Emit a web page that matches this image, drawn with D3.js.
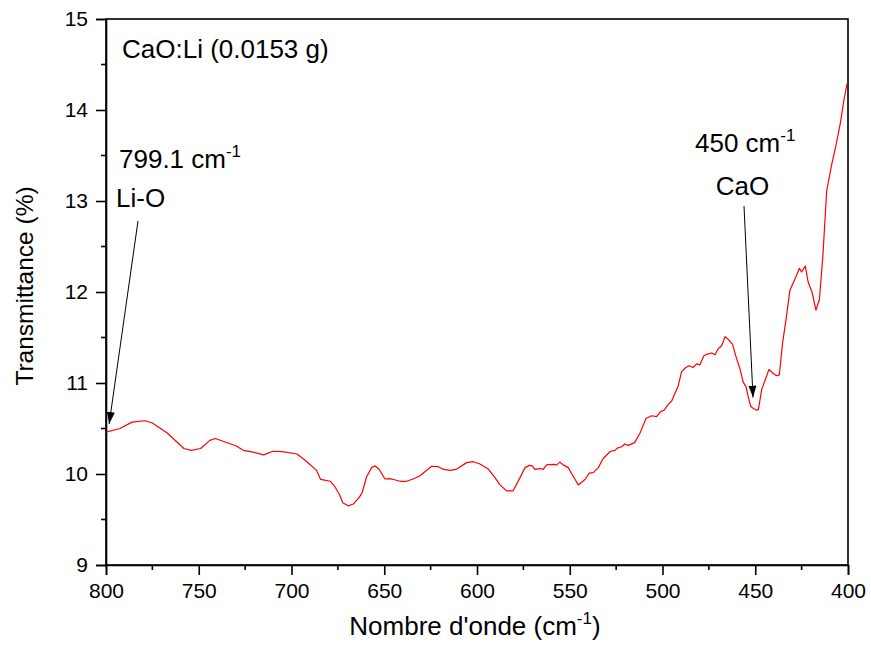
<!DOCTYPE html>
<html>
<head>
<meta charset="utf-8">
<script src="https://cdn.jsdelivr.net/npm/d3@7"></script>
<style>
  html, body { margin: 0; padding: 0; background: #fff; }
  svg { display: block; font-family: "Liberation Sans", Arial, sans-serif; }
</style>
</head>
<body>
<svg id="chart" width="871" height="647"></svg>
<script>
// FTIR spectrum of CaO:Li — wavenumber (cm-1) and transmittance (%)
const wavenumber = [
  800, 792.5, 786, 779, 775, 767, 758, 754, 749, 744, 741, 737, 730, 726, 720.6, 715, 710, 705, 697, 692,
  686.5, 684.3, 679, 676.6, 674, 672.4, 669.4, 666.7, 664, 662, 659.5, 656.8, 655, 652.7, 649.6, 647, 645,
  641.5, 638, 634.4, 630.7, 624.5, 620.8, 618, 614.6, 611.3, 605.6, 602, 598.4, 594, 590.3, 587.6, 584,
  580.5, 576.8, 574.1, 571.8, 570.2, 568.8, 566, 564.3, 562.5, 559, 557, 555.3, 553.5, 550.8, 548, 545.4,
  541.8, 539.5, 537.3, 534.6, 532, 528, 525.6, 524.4, 522, 520.3, 518.5, 515, 512.1, 508.9, 505.9, 503.2,
  501, 499.2, 496.9, 495, 491.5, 489.7, 487.4, 485.6, 483.5, 481.6, 479.8, 477.7, 476.2, 473.5, 471.7,
  469.9, 468.1, 466.3, 464.6, 462.2, 460.4, 458.3, 456.5, 455, 453.8, 452.5, 451, 449.2, 448.3, 446.5,
  444.7, 442.6, 440.3, 438.5, 437, 435.3, 433.4, 431.3, 428, 426.2, 425, 423, 421.5, 419.4, 417.3, 415.4,
  413.5, 411.5, 409, 406.2, 404, 402.2, 400.5
];
const transmittance = [
  10.46, 10.50, 10.57, 10.585, 10.56, 10.45, 10.28, 10.26, 10.28, 10.37, 10.39, 10.36, 10.31, 10.26, 10.24, 10.21, 10.25, 10.245, 10.22, 10.14,
  10.04, 9.94, 9.92, 9.86, 9.77, 9.685, 9.65, 9.67, 9.73, 9.79, 9.97, 10.07, 10.09, 10.05, 9.945, 9.95, 9.94,
  9.92, 9.92, 9.945, 9.98, 10.085, 10.08, 10.05, 10.04, 10.05, 10.125, 10.135, 10.11, 10.055, 9.96, 9.88, 9.815,
  9.815, 9.96, 10.07, 10.095, 10.09, 10.05, 10.06, 10.05, 10.10, 10.105, 10.10, 10.13, 10.10, 10.07, 9.97, 9.88,
  9.94, 10.01, 10.015, 10.07, 10.17, 10.25, 10.26, 10.285, 10.30, 10.33, 10.315, 10.345, 10.45, 10.61, 10.64, 10.63,
  10.685, 10.70, 10.765, 10.805, 10.97, 11.125, 11.17, 11.19, 11.17, 11.21, 11.20, 11.30, 11.315, 11.33, 11.31,
  11.38, 11.41, 11.51, 11.48, 11.425, 11.29, 11.16, 11.01, 10.96, 10.85, 10.745, 10.72, 10.70, 10.71, 10.93,
  11.03, 11.15, 11.105, 11.08, 11.09, 11.435, 11.70, 12.02, 12.17, 12.26, 12.22, 12.285, 12.11, 12.00, 11.80, 11.92,
  12.41, 13.11, 13.38, 13.64, 13.87, 14.11, 14.29
];

const xTicks = [800, 750, 700, 650, 600, 550, 500, 450, 400];
const xMinorTicks = [775, 725, 675, 625, 575, 525, 475, 425];
const yTicks = [9, 10, 11, 12, 13, 14, 15];
const yMinorTicks = [9.5, 10.5, 11.5, 12.5, 13.5, 14.5];

// Band annotations: wavenumber label, assignment, arrow target (data units)
const bands = [
  { value: "799.1", name: "Li-O", target: [798.3, 10.55] },
  { value: "450", name: "CaO", target: [451.2, 10.84] }
];

const svg = d3.select("#chart");
const margin = { left: 106, right: 23, top: 19, bottom: 82 };
const W = 871, H = 647;

const x = d3.scaleLinear().domain([800, 400]).range([margin.left, W - margin.right]);
const y = d3.scaleLinear().domain([9, 15]).range([H - margin.bottom, margin.top]);

const axisColor = "#000";
const tickFont = 21;
const labelFont = 26;
const supFont = 17;

// Frame
svg.append("rect")
  .attr("x", x(800)).attr("y", y(15))
  .attr("width", x(400) - x(800)).attr("height", y(9) - y(15))
  .attr("fill", "none").attr("stroke", axisColor).attr("stroke-width", 1.6);

// Bottom axis
const gx = svg.append("g").attr("transform", `translate(0,${y(9)})`)
  .call(d3.axisBottom(x).tickValues(xTicks).tickFormat(d3.format("d")).tickSize(10).tickPadding(8));
gx.select(".domain").attr("stroke-width", 1.6);
gx.selectAll(".tick line").attr("stroke-width", 1.6);
gx.selectAll(".tick text").attr("font-size", tickFont).attr("font-family", "Liberation Sans, Arial, sans-serif").attr("fill", "#000");
gx.selectAll(".minor").data(xMinorTicks).enter().append("line")
  .attr("x1", d => x(d)).attr("x2", d => x(d)).attr("y1", 0).attr("y2", 5)
  .attr("stroke", axisColor).attr("stroke-width", 1.6);

// Left axis
const gy = svg.append("g").attr("transform", `translate(${x(800)},0)`)
  .call(d3.axisLeft(y).tickValues(yTicks).tickFormat(d3.format("d")).tickSize(10).tickPadding(8));
gy.select(".domain").attr("stroke-width", 1.6);
gy.selectAll(".tick line").attr("stroke-width", 1.6);
gy.selectAll(".tick text").attr("font-size", tickFont).attr("font-family", "Liberation Sans, Arial, sans-serif").attr("fill", "#000");
gy.selectAll(".minor").data(yMinorTicks).enter().append("line")
  .attr("x1", 0).attr("x2", -5).attr("y1", d => y(d)).attr("y2", d => y(d))
  .attr("stroke", axisColor).attr("stroke-width", 1.6);

// Spectrum
const points = wavenumber.map((w, i) => [w, transmittance[i]]);
svg.append("path")
  .datum(points)
  .attr("fill", "none")
  .attr("stroke", "#ff0000")
  .attr("stroke-width", 1.2)
  .attr("stroke-linejoin", "round")
  .attr("d", d3.line().x(d => x(d[0])).y(d => y(d[1])));

// Axis titles
const xTitle = svg.append("text")
  .attr("x", (x(800) + x(400)) / 2 - 2).attr("y", 635)
  .attr("text-anchor", "middle").attr("font-size", labelFont).attr("fill", "#000");
xTitle.append("tspan").text("Nombre d'onde (cm");
xTitle.append("tspan").attr("dy", -11).attr("font-size", supFont).text("-1");
xTitle.append("tspan").attr("dy", 11).text(")");

svg.append("text")
  .attr("transform", `translate(33,${286}) rotate(-90)`)
  .attr("text-anchor", "middle").attr("font-size", 24.5).attr("fill", "#000")
  .text("Transmittance (%)");

// Sample label
svg.append("text")
  .attr("x", 122).attr("y", 58)
  .attr("font-size", labelFont).attr("fill", "#000")
  .text("CaO:Li (0.0153 g)");

// Arrow head marker
svg.append("defs").append("marker")
  .attr("id", "arrow")
  .attr("viewBox", "0 0 12 8")
  .attr("refX", 12).attr("refY", 4)
  .attr("markerWidth", 12).attr("markerHeight", 8)
  .attr("markerUnits", "userSpaceOnUse")
  .attr("orient", "auto")
  .append("path").attr("d", "M0,0 L12,4 L0,8 Z").attr("fill", "#000");

// Li-O band
const b0 = bands[0];
const t0 = svg.append("text").attr("x", 119).attr("y", 168).attr("font-size", labelFont).attr("fill", "#000");
t0.append("tspan").text(`${b0.value} cm`);
t0.append("tspan").attr("dy", -11).attr("font-size", supFont).text("-1");
svg.append("text").attr("x", 116).attr("y", 207).attr("font-size", labelFont).attr("fill", "#000").text(b0.name);
svg.append("line")
  .attr("x1", 138).attr("y1", 221)
  .attr("x2", x(b0.target[0])).attr("y2", y(b0.target[1]))
  .attr("stroke", "#000").attr("stroke-width", 1)
  .attr("marker-end", "url(#arrow)");

// CaO band
const b1 = bands[1];
const t1 = svg.append("text").attr("x", 695).attr("y", 152).attr("font-size", labelFont).attr("fill", "#000");
t1.append("tspan").text(`${b1.value} cm`);
t1.append("tspan").attr("dy", -11).attr("font-size", supFont).text("-1");
svg.append("text").attr("x", 742.5).attr("y", 195).attr("text-anchor", "middle").attr("font-size", labelFont).attr("fill", "#000").text(b1.name);
svg.append("line")
  .attr("x1", 744).attr("y1", 206)
  .attr("x2", x(b1.target[0])).attr("y2", y(b1.target[1]))
  .attr("stroke", "#000").attr("stroke-width", 1)
  .attr("marker-end", "url(#arrow)");
</script>
</body>
</html>
